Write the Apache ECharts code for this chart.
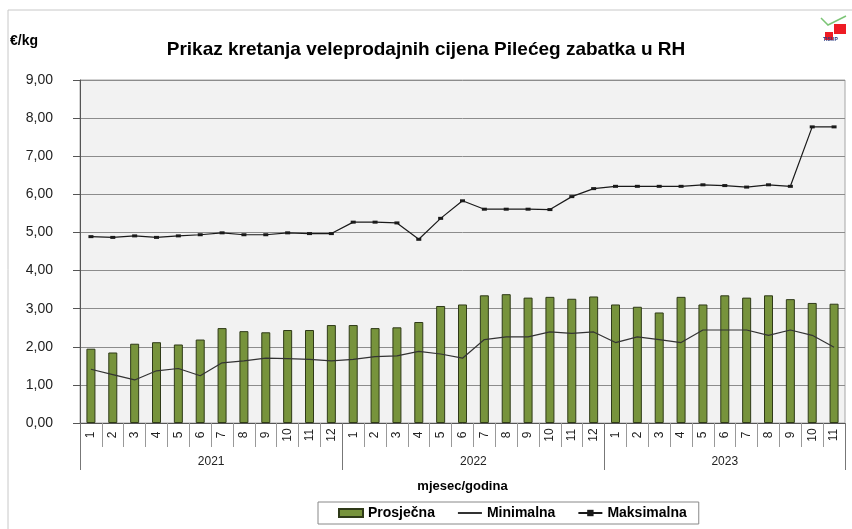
<!DOCTYPE html>
<html>
<head>
<meta charset="utf-8">
<script src="https://cdn.jsdelivr.net/npm/echarts@6/dist/echarts.min.js"></script>
<style>
html,body{margin:0;padding:0;background:#fff;}
#c{width:852px;height:529px;}
</style>
</head>
<body>
<div id="c"></div>
<script>
var years = ['2021', '2022', '2023'];
var monthsPerYear = [12, 12, 11];
var prosjecna = [1.95,1.85,2.08,2.12,2.06,2.19,2.49,2.41,2.38,2.44,2.44,2.57,
                 2.57,2.49,2.51,2.65,3.07,3.11,3.35,3.38,3.29,3.31,3.26,3.32,
                 3.11,3.05,2.90,3.31,3.11,3.35,3.29,3.35,3.25,3.15,3.13];
var minimalna = [1.41,1.27,1.13,1.37,1.43,1.24,1.58,1.63,1.70,1.69,1.67,1.63,
                 1.67,1.74,1.76,1.88,1.81,1.70,2.19,2.26,2.26,2.39,2.35,2.39,
                 2.11,2.26,2.19,2.11,2.44,2.44,2.44,2.30,2.44,2.30,1.99];
var maksimalna = [4.89,4.87,4.91,4.87,4.91,4.94,4.99,4.94,4.94,4.99,4.97,4.97,
                  5.27,5.27,5.25,4.82,5.37,5.83,5.61,5.61,5.61,5.60,5.94,6.15,
                  6.21,6.21,6.21,6.21,6.25,6.23,6.19,6.25,6.21,7.77,7.77];
var seriesNames = ['Prosječna', 'Minimalna', 'Maksimalna'];
var titleText = 'Prikaz kretanja veleprodajnih cijena Pilećeg zabatka u RH';
var yUnit = '€/kg';
var xName = 'mjesec/godina';

// build categories
var cats = [], monthLabels = [];
var bounds = [0], centers = [];
var acc = 0;
for (var y = 0; y < years.length; y++) {
  for (var m = 1; m <= monthsPerYear[y]; m++) {
    cats.push(years[y] + '-' + m);
    monthLabels.push(String(m));
  }
  centers.push(acc + monthsPerYear[y] / 2);
  acc += monthsPerYear[y];
  bounds.push(acc);
}
var total = acc;

var FONT = "'Liberation Sans', Arial, sans-serif";
var chart = echarts.init(document.getElementById('c'), null, {renderer: 'canvas'});
chart.setOption({
  animation: false,
  backgroundColor: '#ffffff',
  title: {
    text: titleText,
    left: 'center',
    top: 35,
    textStyle: {fontFamily: FONT, fontSize: 19, fontWeight: 'bold', color: '#000'}
  },
  graphic: [
    {type: 'line', shape: {x1: 8, y1: 10, x2: 852, y2: 10}, style: {stroke: '#c8c8c8', lineWidth: 1}},
    {type: 'line', shape: {x1: 8, y1: 10, x2: 8, y2: 529}, style: {stroke: '#c8c8c8', lineWidth: 1}},
    {type: 'text', left: 10, top: 34, style: {text: yUnit, font: "bold 14px " + FONT, fill: '#000'}},
    {type: 'polyline', shape: {points: [[821, 18], [828, 25], [846, 16]]}, style: {stroke: '#7cc576', lineWidth: 1.5, fill: null}},
    {type: 'rect', shape: {x: 834, y: 24, width: 12, height: 10}, style: {fill: '#ee1c24'}},
    {type: 'rect', shape: {x: 825, y: 32, width: 8, height: 8}, style: {fill: '#ee1c24'}},
    {type: 'text', x: 823, y: 37, style: {text: 'TISUP', font: "bold 5px " + FONT, fill: '#2a3a80'}}
  ],
  legend: {
    data: [
      {name: seriesNames[0], icon: 'rect'},
      {name: seriesNames[1], itemStyle: {opacity: 0}},
      {name: seriesNames[2]}
    ],
    left: 318,
    top: 502,
    orient: 'horizontal',
    borderColor: '#888',
    borderWidth: 1,
    padding: [4, 12, 4, 20],
    itemWidth: 24,
    itemHeight: 8,
    itemGap: 22,
    textStyle: {fontFamily: FONT, fontSize: 14, fontWeight: 'bold', color: '#000'}
  },
  grid: {
    left: 80, right: 7, top: 80, bottom: 106,
    show: true, backgroundColor: '#F2F2F2', borderColor: '#a6a6a6', borderWidth: 1
  },
  xAxis: [
    {
      type: 'category',
      data: cats,
      boundaryGap: true,
      axisLine: {show: true, lineStyle: {color: '#555', width: 1}},
      axisTick: {show: true, interval: 0, length: 24, lineStyle: {color: '#999'}},
      axisLabel: {
        interval: 0, rotate: 90, align: 'center', verticalAlign: 'middle', margin: 12,
        fontFamily: FONT, fontSize: 12, color: '#222',
        formatter: function (v, i) { return monthLabels[i]; }
      },
      splitLine: {show: false}
    },
    {
      type: 'value',
      min: 0, max: total,
      position: 'bottom',
      name: xName,
      nameLocation: 'middle',
      nameGap: 57,
      nameTextStyle: {fontFamily: FONT, fontSize: 13, fontWeight: 'bold', color: '#000'},
      axisLine: {show: false},
      splitLine: {show: false},
      axisTick: {show: true, customValues: bounds, length: 47, lineStyle: {color: '#777'}},
      axisLabel: {
        customValues: centers, margin: 33,
        fontFamily: FONT, fontSize: 12, color: '#222',
        formatter: function (v) {
          for (var k = 0; k < centers.length; k++) if (Math.abs(centers[k] - v) < 1e-6) return years[k];
          return '';
        }
      }
    }
  ],
  yAxis: {
    type: 'value',
    min: 0, max: 9, interval: 1,
    axisLine: {show: true, lineStyle: {color: '#555'}},
    axisTick: {show: true, length: 7, lineStyle: {color: '#555'}},
    axisLabel: {
      margin: 27, fontFamily: FONT, fontSize: 14, color: '#222',
      formatter: function (v) { return v.toFixed(2).replace('.', ','); }
    },
    splitLine: {show: true, lineStyle: {color: '#8c8c8c', width: 1}}
  },
  series: [
    {
      name: seriesNames[0], type: 'bar', xAxisIndex: 0, data: prosjecna,
      barWidth: 9,
      itemStyle: {color: '#77933C', borderColor: '#2f3a18', borderWidth: 1}
    },
    {
      name: seriesNames[1], type: 'line', xAxisIndex: 0, data: minimalna,
      showSymbol: false, symbol: 'none',
      lineStyle: {color: '#333', width: 1.2},
      itemStyle: {color: '#333'}
    },
    {
      name: seriesNames[2], type: 'line', xAxisIndex: 0, data: maksimalna,
      symbol: 'rect', symbolSize: [5, 3], showSymbol: true,
      lineStyle: {color: '#1a1a1a', width: 1.2},
      itemStyle: {color: '#1a1a1a'}
    }
  ]
});
</script>
</body>
</html>
